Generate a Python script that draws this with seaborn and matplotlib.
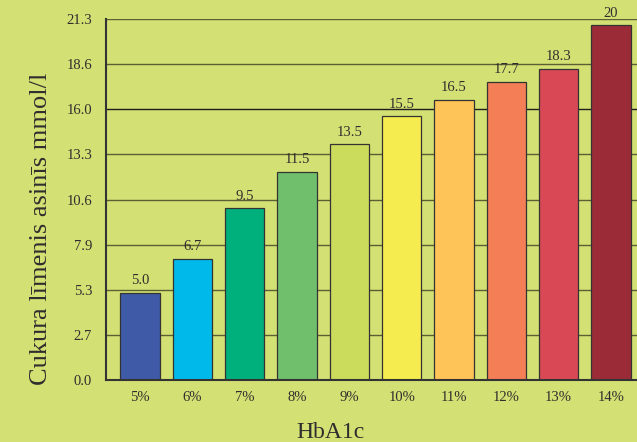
import matplotlib
matplotlib.use("Agg")
import matplotlib.pyplot as plt
import seaborn as sns
import pandas as pd

# data
categories = ["5%", "6%", "7%", "8%", "9%", "10%", "11%", "12%", "13%", "14%"]
bar_heights = [5.13, 7.14, 10.12, 12.27, 13.92, 15.57, 16.55, 17.6, 18.35, 20.92]
bar_labels = ["5.0", "6.7", "9.5", "11.5", "13.5", "15.5", "16.5", "17.7", "18.3", "20"]
ytick_values = [0, 2.6625, 5.325, 7.9875, 10.65, 13.3125, 15.975, 18.6375, 21.3]
ytick_labels = ["0.0", "2.7", "5.3", "7.9", "10.6", "13.3", "16.0", "18.6", "21.3"]
colors = ["#3f5ba8", "#00b9eb", "#00b07c", "#6fbf6c", "#cbdc5d",
          "#f5ec4f", "#fec457", "#f47e56", "#d84955", "#9b2c37"]

bg = "#d3e073"
txt = "#2e2e2e"

sns.set_style("white")
plt.rcParams["font.family"] = ["Liberation Serif", "DejaVu Serif"]

df = pd.DataFrame({"HbA1c": categories, "val": bar_heights})

fig = plt.figure(figsize=(6.37, 4.42), dpi=100, facecolor=bg)
ax = fig.add_axes([106 / 637, 62 / 442, 539 / 637, 361 / 442])
ax.set_facecolor(bg)

sns.barplot(data=df, x="HbA1c", y="val", hue="HbA1c", palette=colors,
            order=categories, hue_order=categories, dodge=False, legend=False,
            width=0.75, edgecolor="#333333", linewidth=0.9, saturation=1, ax=ax)

# one container per hue level, in hue order
for i, cont in enumerate(ax.containers):
    ax.bar_label(cont, labels=[bar_labels[i]], padding=4, fontsize=10.5, color=txt)

ax.set_xlim(-0.65, 9.65)
ax.set_ylim(0, 21.3)
ax.set_yticks(ytick_values)
ax.set_yticklabels(ytick_labels)

ax.set_axisbelow(True)
ax.yaxis.grid(True, color="#5c5e33", linewidth=1.0)
ax.xaxis.grid(False)
ax.get_ygridlines()[6].set_color("#1e1e1e")

ax.tick_params(axis="both", length=0, labelsize=10.5, labelcolor=txt)
ax.tick_params(axis="y", pad=10)
ax.tick_params(axis="x", pad=8)

for s in ["top", "right"]:
    ax.spines[s].set_visible(False)
for s in ["left", "bottom"]:
    ax.spines[s].set_color("#333333")
    ax.spines[s].set_linewidth(1.5)

ax.set_ylabel("Cukura līmenis asinīs mmol/l", fontsize=19, color=txt)
ax.yaxis.set_label_coords(-0.100, 0.42)
ax.set_xlabel("HbA1c", fontsize=17, color=txt)
ax.xaxis.set_label_coords(0.416, -0.116)

fig.savefig("out.png", dpi=100, facecolor=bg)
